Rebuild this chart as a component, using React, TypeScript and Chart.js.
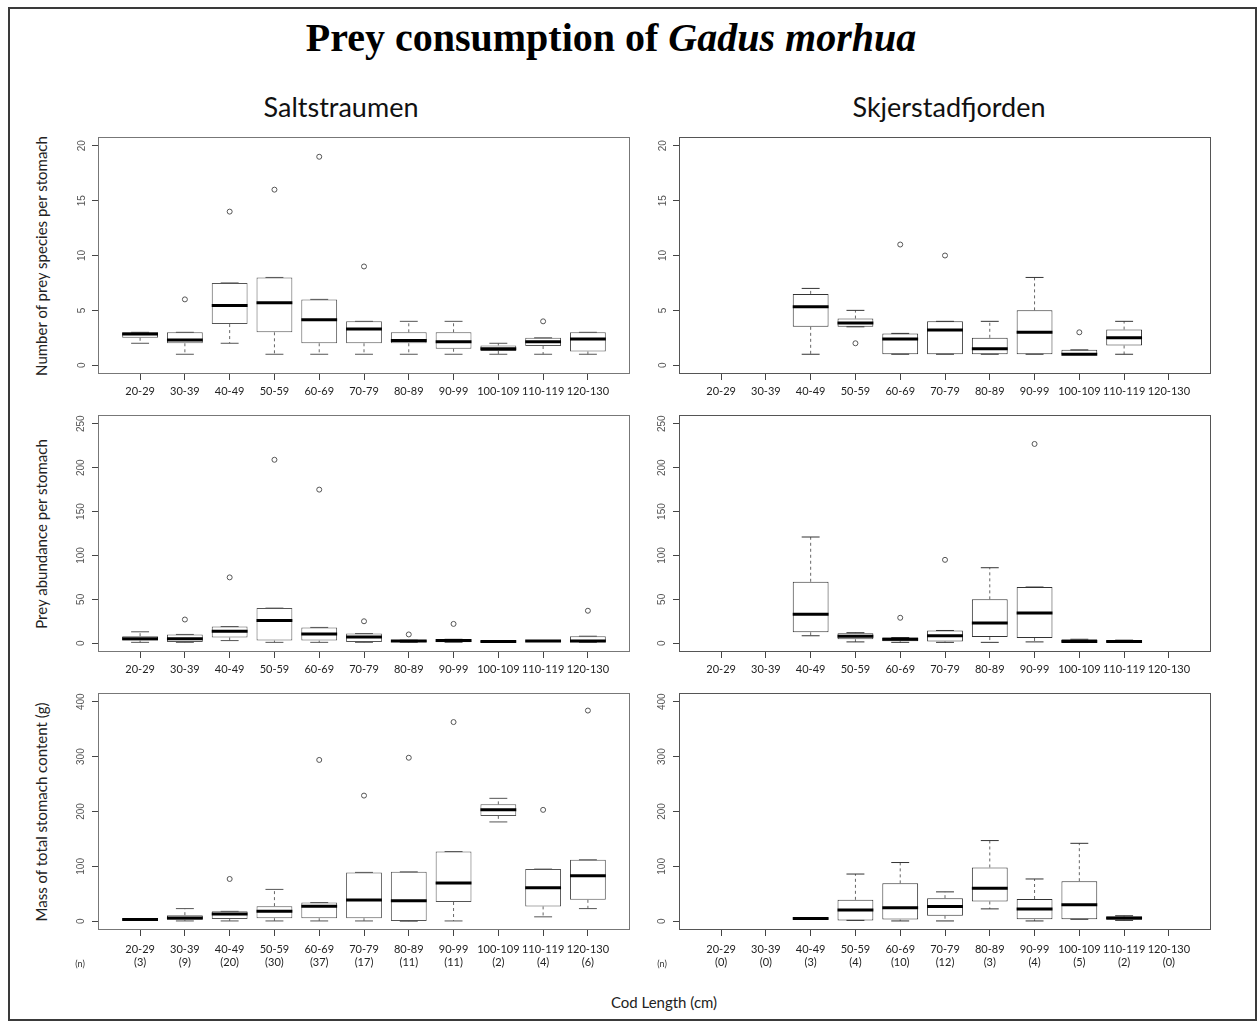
import React, { useEffect, useRef } from "react";
import { Chart, registerables } from "chart.js";
Chart.register(...registerables);

// ---------------- data ----------------
const categories = ["20-29", "30-39", "40-49", "50-59", "60-69", "70-79", "80-89", "90-99", "100-109", "110-119", "120-130"];
const saltCounts = [3, 9, 20, 30, 37, 17, 11, 11, 2, 4, 6];
const skjerCounts = [0, 0, 3, 4, 10, 12, 3, 4, 5, 2, 0];

const speciesTicks = [0, 5, 10, 15, 20];
const abundTicks = [0, 50, 100, 150, 200, 250];
const massTicks = [0, 100, 200, 300, 400];

// [lower whisker, Q1, median, Q3, upper whisker]; null = no fish in class
const saltSpecies = [
  [2, 2.5, 2.85, 3, 3],
  [1, 2, 2.3, 3, 3],
  [2, 3.75, 5.45, 7.5, 7.5],
  [1, 3, 5.7, 8, 8],
  [1, 2, 4.15, 6, 6],
  [1, 2, 3.3, 4, 4],
  [1, 2, 2.25, 3, 4],
  [1, 1.5, 2.15, 3, 4],
  [1, 1.3, 1.5, 1.8, 2],
  [1, 1.75, 2.15, 2.5, 2.5],
  [1, 1.25, 2.4, 3, 3],
];
const saltSpeciesOut = [[], [6], [14], [16], [19], [9], [], [], [], [4], []];

const skjerSpecies = [
  null,
  null,
  [1, 3.5, 5.33, 6.5, 7],
  [3.5, 3.5, 3.85, 4.25, 5],
  [1, 1, 2.4, 2.9, 2.9],
  [1, 1, 3.2, 4, 4],
  [1, 1, 1.5, 2.5, 4],
  [1, 1, 3, 5, 8],
  [1, 1, 1, 1.4, 1.4],
  [1, 1.8, 2.5, 3.25, 4],
  null,
];
const skjerSpeciesOut = [[], [], [], [2], [11], [10], [], [], [3], [], []];

const saltAbund = [
  [1, 3, 5, 8, 13],
  [1, 1.5, 5, 10, 10],
  [3, 6.5, 13.5, 19, 19],
  [1, 3, 26, 40, 40],
  [1, 3, 10.5, 18, 18],
  [1, 1.5, 7, 11, 11],
  [1, 1.5, 2.5, 3.5, 3.5],
  [1, 1, 3, 4.5, 4.5],
  [1.5, 1.5, 2, 2.5, 2.5],
  [2, 2, 2.5, 3, 3],
  [1, 1, 2.5, 8, 8],
];
const saltAbundOut = [[], [27], [75], [209], [175], [25], [10], [22], [], [], [37]];

const skjerAbund = [
  null,
  null,
  [8.5, 12.5, 33, 70, 121],
  [1.5, 4.5, 8, 11.5, 12],
  [1, 2.3, 4.6, 6.5, 6.5],
  [1, 2, 8.5, 14.5, 14.5],
  [1, 7, 23, 50, 86],
  [1.5, 6, 34.5, 64, 64],
  [0.8, 1, 2, 4.5, 4.5],
  [1, 1.5, 2, 3, 3.5],
  null,
];
const skjerAbundOut = [[], [], [], [], [29], [95], [], [227], [], [], []];

const saltMass = [
  [1.5, 2, 3, 3.5, 4],
  [0.5, 2.5, 6, 11, 23],
  [0.5, 4, 13, 18, 18],
  [0.5, 5.5, 18, 27.5, 58],
  [0.5, 5.5, 27.5, 34, 34],
  [0.5, 5.5, 38.5, 89, 89],
  [0, 0.5, 37.5, 90, 90],
  [0.5, 35, 69.5, 127, 127],
  [181, 192, 203, 213, 224],
  [8, 27, 61, 95, 95],
  [23, 39, 83, 112, 112],
];
const saltMassOut = [[], [], [77], [], [294], [229], [298], [363], [], [203], [384]];

const skjerMass = [
  null,
  null,
  [4, 4, 5, 5.5, 5.5],
  [1.5, 1.5, 20.5, 39, 86],
  [0.5, 3, 24.5, 69, 107],
  [0.5, 10, 27, 42, 53.5],
  [22.5, 36, 60, 98, 147],
  [0.5, 3.5, 22.5, 40.5, 77],
  [3.5, 3.5, 30, 73, 142],
  [1.5, 2.5, 6, 8.5, 10],
  null,
];
const skjerMassOut = [[], [], [], [], [], [], [], [], [], [], []];

// ---------------- chart helpers ----------------
const framePlugin = {
  id: "frame",
  afterDatasetsDraw(chart: any, _args: any, opts: any) {
    const { ctx, chartArea: a } = chart;
    ctx.save();
    ctx.strokeStyle = opts.color || "#555";
    ctx.lineWidth = 1;
    ctx.strokeRect(Math.round(a.left) + 0.5, Math.round(a.top) + 0.5, Math.round(a.right - a.left) - 1, Math.round(a.bottom - a.top) - 1);
    ctx.restore();
  },
};

type PanelProps = {
  bx: number;
  by: number;
  stats: (number[] | null)[];
  outliers: number[][];
  yTicks: number[];
  counts?: number[];
  frameColor: string;
  lineColor: string;
  yPad: number;
};

const BW = 532;
const BH = 237;
const YW = 40;
const PT = 14;
const PR = 10;

function BoxPanel({ bx, by, stats, outliers, yTicks, counts, frameColor, lineColor, yPad }: PanelProps) {
  const ref = useRef<HTMLCanvasElement>(null);
  const XH = counts ? 50 : 38;
  const W = BW + YW + PR;
  const H = BH + PT + XH;

  useEffect(() => {
    const yTop = yTicks[yTicks.length - 1];
    const ext = yTop * 0.04;
    const boxData: any[] = [];
    const medData: any[] = [];
    const whiskData: any[] = [];
    const capData: any[] = [];
    const outData: any[] = [];
    stats.forEach((s, k) => {
      if (!s) return;
      const x = k + 1;
      const [lo, q1, med, q3, hi] = s;
      boxData.push({ x, y: [q1, q3] });
      medData.push({ x: x - 0.4, y: med }, { x: x + 0.4, y: med }, { x, y: null });
      whiskData.push({ x, y: q3 }, { x, y: hi }, { x, y: null }, { x, y: q1 }, { x, y: lo }, { x, y: null });
      capData.push(
        { x: x - 0.2, y: hi }, { x: x + 0.2, y: hi }, { x, y: null },
        { x: x - 0.2, y: lo }, { x: x + 0.2, y: lo }, { x, y: null }
      );
      outliers[k].forEach((v) => outData.push({ x, y: v }));
    });

    const xLabels = categories.map((c, i) => (counts ? [c, `(${counts[i]})`] : c));

    const chart = new Chart(ref.current as HTMLCanvasElement, {
      type: "bar",
      data: {
        datasets: [
          {
            type: "bar",
            data: boxData,
            backgroundColor: "#ffffff",
            borderColor: lineColor,
            borderWidth: 1,
            borderSkipped: false,
            barPercentage: 0.8,
            categoryPercentage: 1,
            order: 5,
          } as any,
          {
            type: "line",
            data: whiskData,
            borderColor: "#666",
            borderWidth: 1,
            borderDash: [3, 3],
            pointRadius: 0,
            spanGaps: false,
            fill: false,
            order: 4,
          },
          {
            type: "line",
            data: capData,
            borderColor: lineColor,
            borderWidth: 1,
            pointRadius: 0,
            spanGaps: false,
            fill: false,
            order: 3,
          },
          {
            type: "line",
            data: medData,
            borderColor: "#000",
            borderWidth: 3,
            borderCapStyle: "butt",
            pointRadius: 0,
            spanGaps: false,
            fill: false,
            order: 2,
          },
          {
            type: "scatter",
            data: outData,
            pointStyle: "circle",
            pointRadius: 2.5,
            pointBorderWidth: 1,
            pointBorderColor: "#555",
            pointBackgroundColor: "rgba(255,255,255,0)",
            order: 1,
          } as any,
        ],
      },
      options: {
        animation: false,
        responsive: false,
        devicePixelRatio: 1,
        events: [],
        layout: { padding: { top: PT, right: PR, left: 0, bottom: 0 } },
        plugins: {
          legend: { display: false },
          tooltip: { enabled: false },
          frame: { color: frameColor },
        } as any,
        scales: {
          x: {
            type: "linear",
            min: 0.06,
            max: 11.94,
            offset: false,
            afterBuildTicks: (s: any) => {
              s.ticks = categories.map((_, i) => ({ value: i + 1 }));
            },
            afterFit: (s: any) => {
              s.height = XH;
            },
            ticks: {
              autoSkip: false,
              minRotation: 0,
              maxRotation: 0,
              padding: counts ? 7 : 5,
              color: "#222",
              font: { family: "Lato", size: 11, lineHeight: 1.15 },
              callback: (v: any) => xLabels[Math.round(v) - 1],
            },
            grid: { drawOnChartArea: false, drawTicks: true, tickLength: 6, color: "#444", offset: false },
            border: { display: false },
          },
          y: {
            type: "linear",
            min: -ext,
            max: yTop + ext,
            afterBuildTicks: (s: any) => {
              s.ticks = yTicks.map((v) => ({ value: v }));
            },
            afterFit: (s: any) => {
              s.width = YW;
            },
            ticks: {
              autoSkip: false,
              minRotation: 90,
              maxRotation: 90,
              crossAlign: "center",
              padding: yPad,
              color: "#555",
              font: { family: "Liberation Sans", size: 10 },
            },
            grid: { drawOnChartArea: false, drawTicks: true, tickLength: 6, color: "#444" },
            border: { display: false },
          },
        },
      } as any,
      plugins: [framePlugin],
    });
    return () => chart.destroy();
  }, []);

  return (
    <canvas
      ref={ref}
      width={W}
      height={H}
      style={{ position: "absolute", left: bx - YW, top: by - PT, width: W, height: H }}
    />
  );
}

const rowTops = [137, 415, 693];
const colLefts = [98, 679];

function VText({ text, x, y }: { text: string; x: number; y: number }) {
  return (
    <div
      style={{
        position: "absolute",
        left: x,
        top: y,
        transform: "translate(-50%, -50%) rotate(-90deg)",
        whiteSpace: "nowrap",
        fontFamily: "Lato",
        fontSize: 15,
        color: "#222",
      }}
    >
      {text}
    </div>
  );
}

export default function App() {
  return (
    <div
      style={{
        position: "absolute",
        left: 0,
        top: 0,
        width: 1257,
        height: 1026,
        background: "#fff",
        overflow: "hidden",
        fontFamily: "Lato",
      }}
    >
      <div
        style={{
          position: "absolute",
          left: 8,
          top: 7,
          width: 1245,
          height: 1010,
          border: "2px solid #3a3a3a",
        }}
      />
      <div
        style={{
          position: "absolute",
          left: 0,
          top: 18,
          width: 1222,
          textAlign: "center",
          fontFamily: "Liberation Serif",
          fontWeight: "bold",
          fontSize: 40,
          lineHeight: "40px",
          color: "#000",
        }}
      >
        Prey consumption of <i>Gadus morhua</i>
      </div>
      <div style={{ position: "absolute", left: 341, top: 106, transform: "translate(-50%, -50%)", fontSize: 27, color: "#111", whiteSpace: "nowrap" }}>
        Saltstraumen
      </div>
      <div style={{ position: "absolute", left: 949, top: 106, transform: "translate(-50%, -50%)", fontSize: 27, color: "#111", whiteSpace: "nowrap" }}>
        Skjerstadfjorden
      </div>

      <VText text="Number of prey species per stomach" x={41} y={rowTops[0] + BH / 2} />
      <VText text="Prey abundance per stomach" x={41} y={rowTops[1] + BH / 2} />
      <VText text="Mass of total stomach content (g)" x={41} y={rowTops[2] + BH / 2} />

      <BoxPanel bx={colLefts[0]} by={rowTops[0]} stats={saltSpecies} outliers={saltSpeciesOut} yTicks={speciesTicks} frameColor="#777" lineColor="#555" yPad={4.5} />
      <BoxPanel bx={colLefts[1]} by={rowTops[0]} stats={skjerSpecies} outliers={skjerSpeciesOut} yTicks={speciesTicks} frameColor="#555" lineColor="#333" yPad={4.5} />
      <BoxPanel bx={colLefts[0]} by={rowTops[1]} stats={saltAbund} outliers={saltAbundOut} yTicks={abundTicks} frameColor="#777" lineColor="#555" yPad={2} />
      <BoxPanel bx={colLefts[1]} by={rowTops[1]} stats={skjerAbund} outliers={skjerAbundOut} yTicks={abundTicks} frameColor="#555" lineColor="#333" yPad={2} />
      <BoxPanel bx={colLefts[0]} by={rowTops[2]} stats={saltMass} outliers={saltMassOut} yTicks={massTicks} counts={saltCounts} frameColor="#777" lineColor="#555" yPad={2} />
      <BoxPanel bx={colLefts[1]} by={rowTops[2]} stats={skjerMass} outliers={skjerMassOut} yTicks={massTicks} counts={skjerCounts} frameColor="#555" lineColor="#333" yPad={2} />

      <div style={{ position: "absolute", left: 80, top: 963, transform: "translate(-50%, -50%)", fontSize: 9, color: "#333" }}>(n)</div>
      <div style={{ position: "absolute", left: 662, top: 963, transform: "translate(-50%, -50%)", fontSize: 9, color: "#333" }}>(n)</div>
      <div style={{ position: "absolute", left: 664, top: 1002, transform: "translate(-50%, -50%)", fontSize: 15, color: "#222", whiteSpace: "nowrap" }}>
        Cod Length (cm)
      </div>
    </div>
  );
}
